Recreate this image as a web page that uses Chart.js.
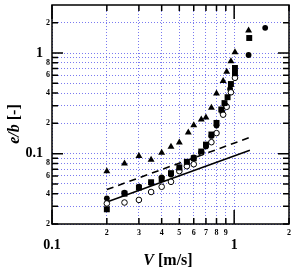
<!DOCTYPE html>
<html>
<head>
<meta charset="utf-8">
<script src="https://cdn.jsdelivr.net/npm/chart.js@4.4.1/dist/chart.umd.min.js"></script>
<style>
  body { margin: 0; background: #fff; }
  canvas { display: block; }
</style>
</head>
<body>
<canvas id="c" width="296" height="269"></canvas>
<script>
// tick positions and labels
const xTicks = [0.1, 0.2, 0.3, 0.4, 0.5, 0.6, 0.7, 0.8, 0.9, 1, 2];
const xLabels = ['0.1', '2', '3', '4', '5', '6', '7', '8', '9', '1', '2'];
const yTicks = [0.02, 0.03, 0.04, 0.05, 0.06, 0.07, 0.08, 0.09, 0.1, 0.2, 0.3, 0.4, 0.5, 0.6, 0.7, 0.8, 0.9, 1, 2];
const yLabels = ['2', '', '4', '', '6', '', '8', '', '0.1', '2', '', '4', '', '6', '', '8', '', '1', '2'];
const majors = [0.1, 1];

// filled triangles
const triV = [0.20, 0.25, 0.30, 0.35, 0.40, 0.45, 0.50, 0.56, 0.60, 0.66, 0.70, 0.75, 0.80, 0.87, 0.91, 0.96, 1.01, 1.20];
const triY = [0.067, 0.080, 0.095, 0.087, 0.102, 0.117, 0.129, 0.162, 0.191, 0.218, 0.229, 0.286, 0.395, 0.526, 0.650, 0.828, 1.02, 1.67];

// filled squares
const sqV = [0.20, 0.25, 0.30, 0.35, 0.40, 0.45, 0.50, 0.55, 0.60, 0.66, 0.70, 0.75, 0.80, 0.85, 0.885, 0.92, 0.96, 1.01, 1.01, 1.21];
const sqY = [0.028, 0.040, 0.046, 0.052, 0.056, 0.064, 0.073, 0.083, 0.090, 0.105, 0.123, 0.155, 0.202, 0.275, 0.318, 0.364, 0.492, 0.63, 0.71, 1.41];

// filled circles
const dotV = [0.20, 0.25, 0.30, 0.35, 0.40, 0.45, 0.50, 0.55, 0.60, 0.66, 0.70, 0.75, 0.80, 0.86, 0.90, 0.95, 1.20, 1.48];
const dotY = [0.036, 0.041, 0.047, 0.051, 0.058, 0.062, 0.070, 0.081, 0.092, 0.103, 0.118, 0.150, 0.190, 0.260, 0.300, 0.44, 0.956, 1.78];

// open circles
const ringV = [0.20, 0.25, 0.30, 0.35, 0.40, 0.45, 0.50, 0.55, 0.60, 0.66, 0.75, 0.80, 0.87, 0.91, 0.96, 1.01];
const ringY = [0.032, 0.0327, 0.0347, 0.0416, 0.0469, 0.0525, 0.067, 0.075, 0.0785, 0.103, 0.130, 0.160, 0.244, 0.292, 0.407, 0.567];

// fitted lines
const lineV = [0.2, 1.22];
const solidY = [0.033, 0.108];
const dashY = [0.044, 0.145];

const pts = (xs, ys) => xs.map((v, i) => ({ x: v, y: ys[i] }));
const serif = '"Liberation Serif", "DejaVu Serif", serif';

const frame = {
    id: 'frame',
    afterDatasetsDraw(chart) {
        const { ctx, chartArea: a, scales: { x, y } } = chart;
        ctx.save();
        ctx.strokeStyle = '#000';
        ctx.lineWidth = 1.5;
        ctx.beginPath();
        x.ticks.forEach(t => {
            const px = x.getPixelForValue(t.value);
            const len = majors.includes(t.value) ? 14 : 6;
            ctx.moveTo(px, a.bottom); ctx.lineTo(px, a.bottom - len);
            ctx.moveTo(px, a.top); ctx.lineTo(px, a.top + len);
        });
        y.ticks.forEach(t => {
            const py = y.getPixelForValue(t.value);
            const len = majors.includes(t.value) ? 11 : 6;
            ctx.moveTo(a.left, py); ctx.lineTo(a.left + len, py);
            ctx.moveTo(a.right, py); ctx.lineTo(a.right - len, py);
        });
        ctx.stroke();
        ctx.strokeRect(a.left, a.top, a.width, a.height);

        // axis titles
        ctx.fillStyle = '#000';
        ctx.textBaseline = 'middle';
        const it = 'italic bold 16px ' + serif, bd = 'bold 16px ' + serif;
        ctx.font = it; const wV = ctx.measureText('V').width;
        ctx.font = bd; const wU = ctx.measureText(' [m/s]').width;
        let sx = 168 - (wV + wU) / 2;
        ctx.textAlign = 'left';
        ctx.font = it; ctx.fillText('V', sx, 261);
        ctx.font = bd; ctx.fillText(' [m/s]', sx + wV, 261);

        ctx.translate(15, 124);
        ctx.rotate(-Math.PI / 2);
        ctx.font = it; const wE = ctx.measureText('e/b').width;
        ctx.font = bd; const wD = ctx.measureText(' [-]').width;
        sx = -(wE + wD) / 2;
        ctx.font = it; ctx.fillText('e/b', sx, 0);
        ctx.font = bd; ctx.fillText(' [-]', sx + wE, 0);
        ctx.restore();
    }
};

const tickFont = (ctx) => majors.includes(ctx.tick && ctx.tick.value)
    ? { family: serif, weight: 'bold', size: 14, lineHeight: 0.85 }
    : { family: serif, weight: 'bold', size: 8, lineHeight: 1.2 };

new Chart(document.getElementById('c'), {
    type: 'scatter',
    data: {
        datasets: [{
            label: 'triangles', data: pts(triV, triY),
            pointStyle: 'triangle', pointRadius: 4, backgroundColor: '#000', borderColor: '#000', borderWidth: 0
        }, {
            label: 'squares', data: pts(sqV, sqY),
            pointStyle: 'rect', pointRadius: 4.2, backgroundColor: '#000', borderColor: '#000', borderWidth: 0
        }, {
            label: 'open circles', data: pts(ringV, ringY),
            pointStyle: 'circle', pointRadius: 2.8, backgroundColor: '#fff', borderColor: '#000', borderWidth: 1
        }, {
            label: 'filled circles', data: pts(dotV, dotY),
            pointStyle: 'circle', pointRadius: 2.9, backgroundColor: '#000', borderColor: '#000', borderWidth: 0
        }, {
            label: 'dashed', data: pts(lineV, dashY), showLine: true, pointRadius: 0,
            borderColor: '#000', borderWidth: 1.6, borderDash: [7, 5]
        }, {
            label: 'solid', data: pts(lineV, solidY), showLine: true, pointRadius: 0,
            borderColor: '#000', borderWidth: 1.6
        }]
    },
    options: {
        responsive: false,
        animation: false,
        devicePixelRatio: 1,
        layout: { padding: { top: 3, right: 7, left: 0, bottom: 0 } },
        plugins: { legend: { display: false }, tooltip: { enabled: false } },
        scales: {
            x: {
                type: 'logarithmic', min: 0.1, max: 2,
                afterBuildTicks: (s) => { s.ticks = xTicks.map(v => ({ value: v })); },
                afterFit: (s) => { s.height = 45; s.paddingLeft = 0; s.paddingRight = 0; },
                grid: { color: '#7a7af0', lineWidth: 1, drawTicks: false },
                border: { display: false, dash: [1, 2] },
                ticks: {
                    autoSkip: false, maxRotation: 0, padding: 4, color: '#000',
                    font: tickFont,
                    callback: (v) => {
                        const i = xTicks.indexOf(v);
                        if (i < 0) return '';
                        return majors.includes(v) ? ['', xLabels[i]] : xLabels[i];
                    }
                }
            },
            y: {
                type: 'logarithmic', min: 0.02, max: 3,
                afterBuildTicks: (s) => { s.ticks = yTicks.map(v => ({ value: v })); },
                afterFit: (s) => { s.width = 52; s.paddingTop = 0; s.paddingBottom = 0; },
                grid: { color: '#7a7af0', lineWidth: 1, drawTicks: false },
                border: { display: false, dash: [1, 2] },
                ticks: {
                    autoSkip: false, padding: 2, color: '#000',
                    font: tickFont,
                    callback: (v) => {
                        const i = yTicks.indexOf(v);
                        if (i < 0) return '';
                        return majors.includes(v) ? yLabels[i] + '  ' : yLabels[i];
                    }
                }
            }
        }
    },
    plugins: [frame]
});
</script>
</body>
</html>
